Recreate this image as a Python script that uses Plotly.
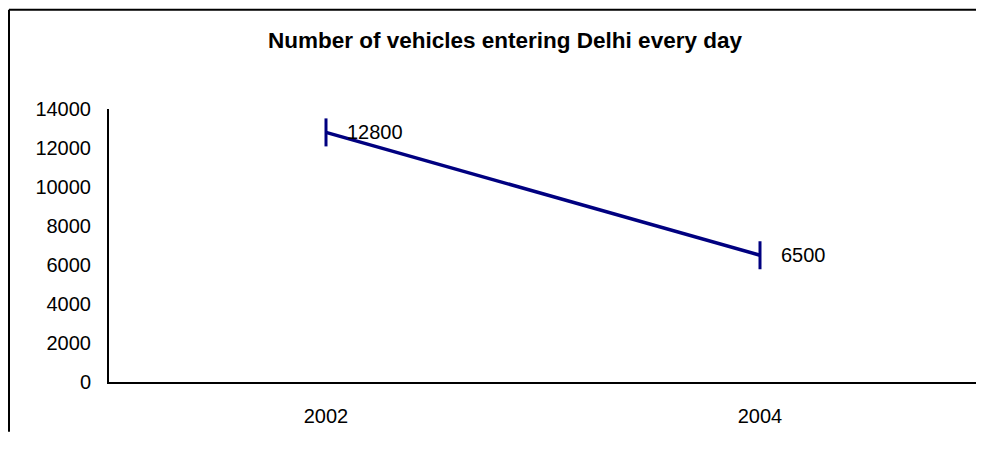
import plotly.graph_objects as go

years = ["2002", "2004"]
vehicles = [12800, 6500]
y_ticks = [0, 2000, 4000, 6000, 8000, 10000, 12000, 14000]
title_text = "Number of vehicles entering Delhi every day"

# page has an 8px body margin; figure sized to fit the window without scrollbars
W, H = 976, 426
ML, MR, MT, MB = 101, 7, 101, 50
PW, PH = W - ML - MR, H - MT - MB

def px_to_paper_x(px):
    return (px - ML) / PW

def px_to_paper_y(py):
    return 1 - (py - MT) / PH

FONT = "Liberation Sans, Arial, sans-serif"

fig = go.Figure()
fig.add_trace(go.Scatter(
    x=years, y=vehicles, mode="lines+markers",
    line=dict(color="#000080", width=3.5),
    marker=dict(symbol="line-ns", size=20, line=dict(color="#000080", width=3)),
    hoverinfo="x+y", showlegend=False,
))

for i, v in enumerate(vehicles):
    fig.add_annotation(x=i, y=v, xref="x", yref="y", text=str(v), showarrow=False,
                       xanchor="left", yanchor="middle", xshift=19,
                       font=dict(family=FONT, size=20, color="#000000"))

# outer frame (left and top edges visible), kept within the figure bounds
fx, fy = px_to_paper_x(1), px_to_paper_y(1)
fig.add_shape(type="line", xref="paper", yref="paper", x0=fx, x1=fx, y0=fy, y1=px_to_paper_y(H),
              line=dict(color="#000000", width=2))
fig.add_shape(type="line", xref="paper", yref="paper", x0=fx, x1=px_to_paper_x(W), y0=fy, y1=fy,
              line=dict(color="#000000", width=2))

fig.update_layout(
    width=W, height=H, autosize=False,
    margin=dict(l=ML, r=MR, t=MT, b=MB, pad=0),
    paper_bgcolor="white", plot_bgcolor="white",
    title=dict(text=f"<b>{title_text}</b>", x=497 / W, xref="container", xanchor="center",
               y=1 - 32 / H, yref="container", yanchor="middle",
               font=dict(family=FONT, size=22.5, color="#000000")),
    font=dict(family=FONT, size=20, color="#000000"),
    xaxis=dict(type="category", range=[-0.5, 1.5], showgrid=False, zeroline=False,
               showline=True, linecolor="black", linewidth=2,
               ticks="outside", ticklen=15, tickcolor="rgba(0,0,0,0)",
               tickfont=dict(family=FONT, size=20, color="#000000")),
    yaxis=dict(range=[0, 14000], tickvals=y_ticks, tickformat="d", showgrid=False, zeroline=False,
               showline=True, linecolor="black", linewidth=2,
               ticks="outside", ticklen=12, tickcolor="rgba(0,0,0,0)",
               tickfont=dict(family=FONT, size=20, color="#000000")),
)

fig.write_html("out.html")
